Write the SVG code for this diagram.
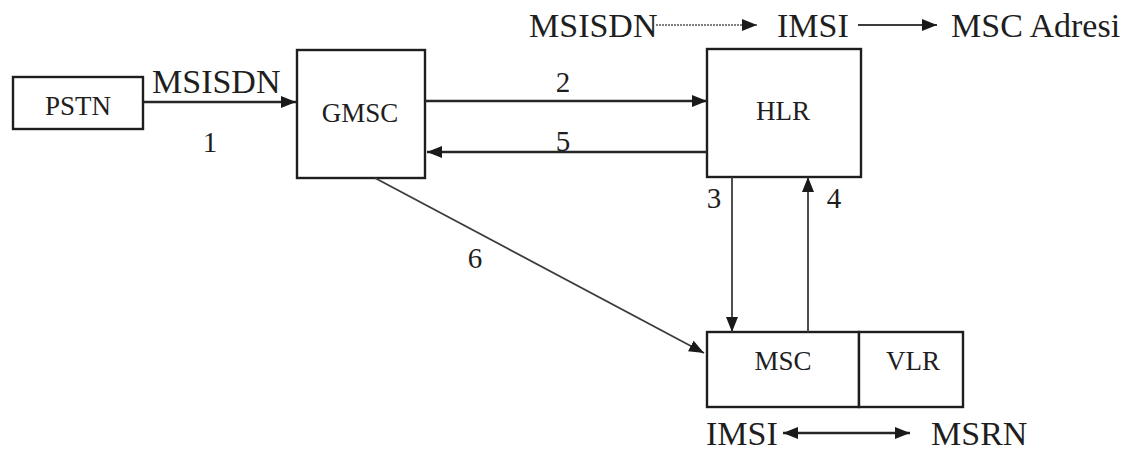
<svg xmlns="http://www.w3.org/2000/svg" width="1139" height="451" viewBox="0 0 1139 451">
  <style>
    .box { fill: #ffffff; stroke: #1e1e1e; stroke-width: 2.4; }
    .lbl { font-family: "Liberation Serif", "Times New Roman", serif; fill: #1e1e1e; }
    .node { font-size: 27px; text-anchor: middle; }
    .big { font-size: 34px; }
    .num { font-size: 29px; text-anchor: middle; }
    .edge { fill: none; stroke: #262626; stroke-width: 2.4; }
    .thin { fill: none; stroke: #3c3c3c; stroke-width: 1.8; }
    .dot { fill: none; stroke: #555555; stroke-width: 1.4; stroke-dasharray: 2 1; }
  </style>
  <defs>
    <marker id="arrow" markerUnits="userSpaceOnUse" markerWidth="16" markerHeight="12" refX="15" refY="6" orient="auto-start-reverse">
      <path d="M0,0 L15,6 L0,12 z" fill="#1a1a1a"/>
    </marker>
  </defs>

  <rect width="1139" height="451" fill="#ffffff"/>

  <!-- nodes -->
  <g id="pstn">
    <rect class="box" x="13" y="77" width="130" height="52"/>
    <text class="lbl node" x="78" y="115">PSTN</text>
  </g>
  <g id="gmsc">
    <rect class="box" x="297" y="50" width="128" height="128"/>
    <text class="lbl node" x="360" y="122">GMSC</text>
  </g>
  <g id="hlr">
    <rect class="box" x="707" y="49" width="154" height="128"/>
    <text class="lbl node" x="783" y="120">HLR</text>
  </g>
  <g id="msc">
    <rect class="box" x="707" y="332" width="152" height="75"/>
    <text class="lbl node" x="783" y="370">MSC</text>
  </g>
  <g id="vlr">
    <rect class="box" x="859" y="332" width="104" height="75"/>
    <text class="lbl node" x="913" y="370">VLR</text>
  </g>

  <!-- connectors -->
  <g id="connectors">
    <line class="edge" x1="143" y1="102" x2="296" y2="102" marker-end="url(#arrow)"/>
    <line class="edge" x1="425" y1="101" x2="707" y2="101" marker-end="url(#arrow)"/>
    <line class="edge" x1="707" y1="152" x2="427" y2="152" marker-end="url(#arrow)"/>
    <line class="thin" x1="732" y1="177" x2="732" y2="332" marker-end="url(#arrow)"/>
    <line class="thin" x1="808" y1="332" x2="808" y2="177" marker-end="url(#arrow)"/>
    <line class="thin" x1="375" y1="178" x2="704" y2="353" marker-end="url(#arrow)"/>
    <line class="dot" x1="656" y1="25" x2="757" y2="25" marker-end="url(#arrow)"/>
    <line class="thin" x1="858" y1="25" x2="937" y2="25" marker-end="url(#arrow)"/>
    <line class="edge" x1="783" y1="433" x2="910" y2="433" marker-start="url(#arrow)" marker-end="url(#arrow)"/>
  </g>

  <!-- message labels -->
  <g id="labels">
    <text class="lbl big" x="152" y="93">MSISDN</text>
    <text class="lbl num" x="210" y="152">1</text>
    <text class="lbl num" x="563" y="92">2</text>
    <text class="lbl num" x="563" y="151">5</text>
    <text class="lbl num" x="714" y="208">3</text>
    <text class="lbl num" x="834" y="208">4</text>
    <text class="lbl num" x="475" y="268">6</text>
    <text class="lbl big" x="529" y="37">MSISDN</text>
    <text class="lbl big" x="777" y="37">IMSI</text>
    <text class="lbl big" x="951" y="37">MSC Adresi</text>
    <text class="lbl big" x="706" y="445">IMSI</text>
    <text class="lbl big" x="931" y="445">MSRN</text>
  </g>
</svg>
